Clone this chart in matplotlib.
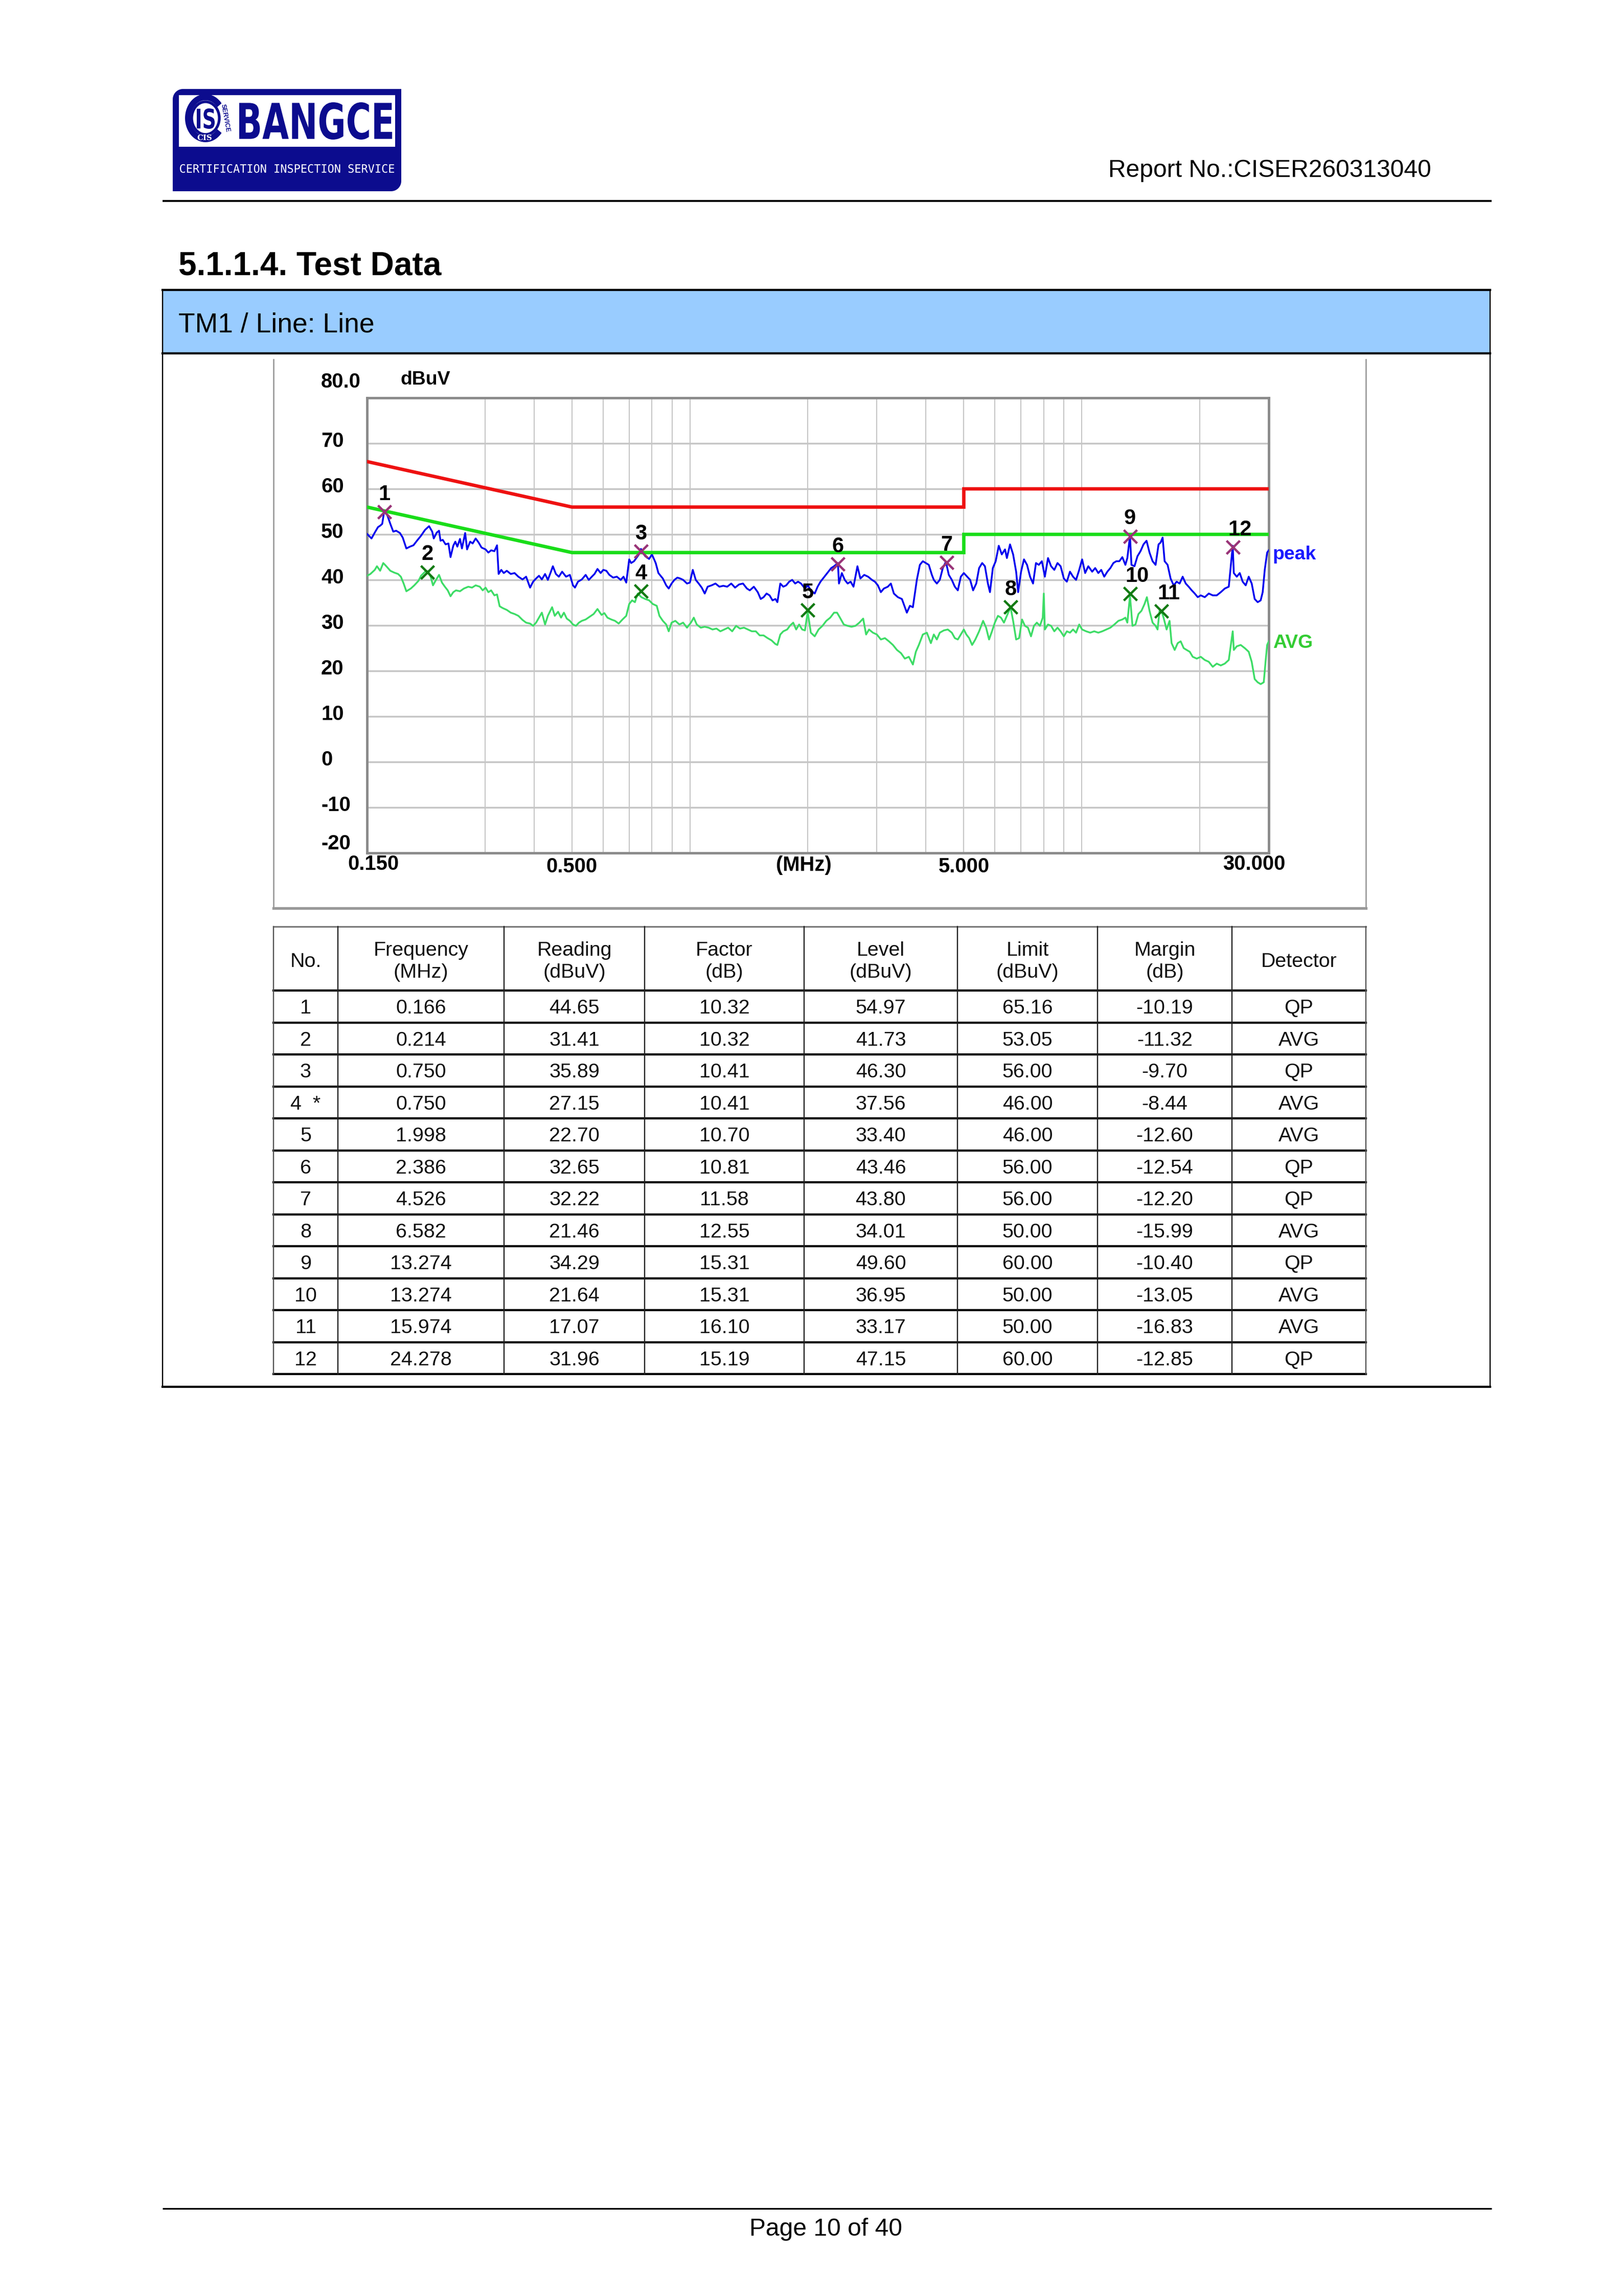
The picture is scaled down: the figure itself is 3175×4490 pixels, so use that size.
import numpy as np
import matplotlib
matplotlib.use("Agg")
import matplotlib.pyplot as plt
from matplotlib.patches import Rectangle, PathPatch, Polygon, Ellipse
from matplotlib.textpath import TextPath
from matplotlib.font_manager import FontProperties
from matplotlib.transforms import Affine2D
from matplotlib.ticker import NullLocator

plt.rcParams['font.family'] = ['Liberation Sans', 'DejaVu Sans']

# ---------------- data ----------------
peak_freq_lo = [0.150, 0.154, 0.157, 0.160, 0.162, 0.164, 0.166, 0.169, 0.172, 0.175, 0.178, 0.182, 0.185, 0.189,
                0.193, 0.197, 0.202, 0.206, 0.211, 0.216, 0.220, 0.222, 0.226, 0.229, 0.231, 0.234, 0.238, 0.242,
                0.245, 0.249, 0.252, 0.255, 0.259, 0.262, 0.267, 0.270, 0.275, 0.279, 0.284, 0.289, 0.294, 0.301,
                0.306, 0.311, 0.317, 0.322, 0.325, 0.330, 0.335, 0.341, 0.349, 0.357, 0.365, 0.374, 0.382, 0.391,
                0.398, 0.405, 0.412, 0.419, 0.427, 0.434, 0.442, 0.447, 0.455, 0.463, 0.472, 0.483, 0.494, 0.503,
                0.509, 0.518, 0.530, 0.542, 0.552, 0.562, 0.571, 0.581, 0.592, 0.601, 0.612, 0.623, 0.637, 0.651,
                0.666, 0.677, 0.688, 0.700, 0.708, 0.720, 0.740, 0.750, 0.760, 0.769, 0.787, 0.800, 0.818, 0.831]
peak_level_lo = [50.1, 49.1, 50.4, 51.6, 51.9, 52.3, 55.2, 54.2, 52.3, 50.6, 50.8, 50.3, 49.3, 46.9,
                 47.3, 47.6, 48.8, 49.7, 51.0, 51.8, 50.6, 49.1, 50.4, 50.8, 48.6, 48.8, 47.8, 48.0,
                 45.0, 47.5, 48.4, 47.3, 49.0, 46.9, 50.3, 46.7, 48.4, 48.0, 49.1, 48.2, 47.1, 46.7,
                 46.0, 46.5, 46.3, 47.6, 41.3, 42.2, 41.5, 42.0, 41.3, 41.5, 40.7, 40.1, 40.7, 38.3,
                 39.6, 40.3, 40.9, 40.1, 41.3, 40.0, 41.8, 43.0, 41.3, 40.7, 41.8, 40.7, 41.1, 38.8,
                 38.3, 39.6, 40.1, 41.1, 40.0, 40.7, 41.3, 42.4, 41.5, 42.2, 42.0, 41.1, 40.5, 40.7,
                 40.0, 40.7, 39.4, 44.5, 43.7, 44.1, 45.5, 46.8, 46.0, 45.2, 44.6, 45.6, 43.7, 41.5]

peak_freq_mid = [0.853, 0.870, 0.883, 0.898, 0.913, 0.929, 0.945, 0.961, 0.983, 1.000, 1.017, 1.035, 1.053, 1.072,
                 1.091, 1.110, 1.136, 1.162, 1.189, 1.217, 1.245, 1.275, 1.304, 1.335, 1.366, 1.398, 1.422, 1.456,
                 1.490, 1.516, 1.542, 1.569, 1.597, 1.625, 1.653, 1.672, 1.701, 1.731, 1.761, 1.792, 1.824, 1.856,
                 1.888, 1.921, 1.966, 2.000, 2.035, 2.082, 2.118, 2.154, 2.204, 2.255, 2.294, 2.333, 2.386, 2.401,
                 2.442, 2.484, 2.527, 2.571, 2.615, 2.676, 2.723, 2.785, 2.849, 2.915, 2.965, 3.018, 3.071, 3.126,
                 3.200, 3.257, 3.315, 3.394, 3.475, 3.536, 3.578, 3.642, 3.707, 3.750, 3.794, 3.862, 3.930, 4.000,
                 4.071, 4.144, 4.192, 4.267, 4.342, 4.420, 4.500, 4.578, 4.660, 4.743, 4.827, 4.913, 5.000]
peak_level_mid = [40.3, 38.8, 38.1, 39.2, 40.0, 40.5, 40.3, 40.0, 39.2, 39.4, 42.2, 40.0, 39.2, 38.3,
                  37.0, 38.5, 38.8, 39.2, 38.5, 38.7, 38.5, 39.2, 38.3, 39.0, 39.2, 38.1, 37.7, 38.5,
                  37.3, 35.8, 36.2, 37.0, 36.6, 35.5, 35.8, 35.1, 39.2, 38.5, 38.8, 39.6, 40.0, 39.2,
                  39.6, 39.2, 38.1, 38.8, 37.7, 37.0, 38.5, 39.6, 40.7, 41.8, 42.6, 43.0, 43.7, 39.2,
                  41.5, 40.0, 39.2, 39.6, 38.5, 43.0, 40.3, 41.1, 40.7, 40.0, 39.6, 38.8, 37.3, 38.1,
                  38.5, 39.2, 37.0, 36.2, 35.8, 34.0, 32.8, 34.3, 34.0, 37.0, 40.0, 43.3, 44.1, 43.7,
                  43.3, 41.1, 40.0, 39.2, 40.0, 42.6, 44.0, 41.1, 40.0, 38.5, 37.7, 40.7, 41.5]

peak_freq_hi = [5.10, 5.19, 5.28, 5.38, 5.47, 5.57, 5.66, 5.76, 5.83, 5.93, 6.03, 6.14, 6.25, 6.37, 6.44,
                6.56, 6.68, 6.80, 6.88, 7.00, 7.12, 7.25, 7.38, 7.51, 7.64, 7.77, 7.91, 8.05, 8.20, 8.35,
                8.51, 8.67, 8.83, 9.00, 9.16, 9.33, 9.50, 9.67, 9.85, 10.02, 10.20, 10.39, 10.63, 10.82, 11.02,
                11.21, 11.41, 11.62, 11.83, 12.04, 12.25, 12.47, 12.69, 12.92, 13.07, 13.274, 13.39, 13.63, 13.87,
                14.12, 14.37, 14.63, 14.89, 15.16, 15.43, 15.70, 15.89, 16.08, 16.27, 16.56, 16.85, 17.16, 17.46,
                17.77, 18.09, 18.42, 18.74, 19.08, 19.42, 19.77, 20.12, 20.60, 21.09, 21.59, 22.10, 22.63, 23.17,
                23.72, 24.278, 24.43, 24.86, 25.30, 25.74, 26.20, 26.67, 27.14, 27.62, 28.11, 28.61, 28.95, 29.30,
                29.72, 30.0]
peak_level_hi = [40.7, 40.0, 37.7, 39.2, 42.6, 43.7, 43.0, 39.2, 37.3, 42.6, 44.1, 47.5, 45.6, 46.7, 44.8,
                 47.8, 45.6, 41.8, 37.3, 41.8, 44.5, 43.3, 40.7, 39.2, 43.7, 43.3, 44.1, 40.7, 44.8, 43.0,
                 42.2, 43.7, 43.0, 40.3, 39.6, 41.8, 40.7, 40.0, 42.2, 44.5, 41.5, 43.0, 41.8, 42.6, 41.5,
                 42.2, 40.7, 41.8, 42.6, 43.7, 44.1, 44.1, 45.0, 43.3, 44.8, 49.6, 43.3, 43.0, 45.2,
                 46.3, 47.8, 48.6, 46.0, 44.1, 43.3, 47.8, 48.2, 49.3, 44.1, 43.3, 40.3, 38.8, 39.6,
                 39.2, 40.7, 39.2, 38.5, 37.7, 37.0, 36.2, 36.6, 36.2, 37.0, 36.6, 36.6, 37.3, 38.1,
                 38.5, 47.5, 41.5, 40.7, 41.5, 39.6, 38.8, 40.7, 39.2, 35.8, 35.1, 35.5, 37.3, 42.2,
                 46.0, 46.5]

avg_freq_lo = [0.150, 0.153, 0.157, 0.159, 0.162, 0.165, 0.168, 0.172, 0.176, 0.180, 0.183, 0.186, 0.189, 0.194,
               0.198, 0.203, 0.206, 0.211, 0.214, 0.215, 0.218, 0.221, 0.225, 0.229, 0.233, 0.237, 0.241, 0.245,
               0.249, 0.253, 0.259, 0.265, 0.272, 0.278, 0.284, 0.291, 0.296, 0.301, 0.306, 0.311, 0.317, 0.322,
               0.327, 0.333, 0.341, 0.349, 0.357, 0.365, 0.374, 0.382, 0.391, 0.398, 0.405, 0.412, 0.419, 0.427,
               0.434, 0.445, 0.452, 0.461, 0.469, 0.477, 0.485, 0.494, 0.503, 0.512, 0.521, 0.530, 0.542, 0.555,
               0.568, 0.581, 0.595, 0.605, 0.616, 0.630, 0.644, 0.658, 0.673, 0.688, 0.700, 0.712, 0.724, 0.736,
               0.752, 0.769, 0.787, 0.804, 0.823, 0.836]
avg_level_lo = [40.9, 41.3, 42.2, 43.0, 42.0, 43.7, 43.0, 42.0, 41.6, 41.3, 40.7, 39.2, 37.5, 38.1,
                38.8, 39.8, 40.9, 41.8, 41.9, 41.8, 40.7, 38.8, 40.0, 41.1, 39.4, 38.5, 37.7, 36.4,
                37.3, 37.7, 37.5, 38.1, 38.5, 38.3, 38.8, 38.5, 37.7, 38.3, 37.3, 37.7, 36.6, 36.8,
                34.2, 33.8, 33.4, 32.8, 32.5, 32.1, 31.2, 30.6, 30.4, 29.9, 30.6, 31.7, 32.8, 30.2,
                32.1, 34.0, 32.1, 33.0, 31.7, 32.8, 31.5, 31.0, 30.2, 29.9, 30.6, 31.0, 31.3, 31.9,
                32.5, 33.6, 32.3, 32.7, 31.7, 31.3, 31.0, 30.4, 31.3, 32.1, 34.7, 35.5, 35.1, 37.0,
                36.2, 35.8, 35.5, 34.7, 34.3, 32.1]

avg_freq_mid = [0.853, 0.870, 0.883, 0.898, 0.918, 0.940, 0.961, 0.983, 1.006, 1.023, 1.041, 1.066, 1.091, 1.116,
                1.142, 1.169, 1.196, 1.224, 1.252, 1.282, 1.312, 1.342, 1.374, 1.406, 1.439, 1.473, 1.507, 1.542,
                1.579, 1.616, 1.653, 1.672, 1.701, 1.731, 1.771, 1.803, 1.835, 1.867, 1.900, 1.934, 1.966, 1.998,
                2.035, 2.082, 2.130, 2.179, 2.229, 2.281, 2.333, 2.374, 2.415, 2.470, 2.527, 2.585, 2.645, 2.706,
                2.768, 2.816, 2.865, 2.931, 3.000, 3.071, 3.145, 3.220, 3.297, 3.376, 3.457, 3.536, 3.620, 3.707,
                3.772, 3.839, 3.930, 4.024, 4.120, 4.192, 4.267, 4.342, 4.446, 4.551, 4.660, 4.743, 4.827, 4.913,
                5.000]
avg_level_mid = [31.0, 30.2, 28.7, 30.6, 31.0, 30.2, 30.6, 29.5, 30.6, 31.7, 30.2, 29.5, 29.7, 29.5,
                 29.1, 29.3, 28.7, 29.1, 29.5, 28.7, 29.9, 29.3, 29.5, 29.1, 28.7, 28.7, 27.8, 27.8,
                 27.2, 26.7, 25.9, 25.7, 28.0, 28.7, 29.1, 30.0, 30.6, 29.1, 30.2, 29.1, 28.9, 33.0,
                 28.4, 27.6, 29.1, 29.9, 31.0, 31.7, 32.8, 32.8, 31.7, 30.2, 29.9, 29.7, 29.9, 30.6,
                 31.5, 28.0, 29.1, 28.4, 28.0, 26.9, 27.2, 26.5, 25.7, 24.6, 23.9, 22.7, 23.1, 21.4,
                 24.2, 25.7, 28.0, 28.4, 26.1, 28.0, 26.9, 28.4, 28.9, 29.1, 28.4, 27.2, 26.9, 28.0,
                 29.1]

avg_freq_hi = [5.075, 5.16, 5.25, 5.35, 5.47, 5.60, 5.70, 5.80, 5.90, 6.00, 6.11, 6.22, 6.33, 6.44, 6.58,
               6.68, 6.80, 6.92, 7.04, 7.16, 7.29, 7.42, 7.55, 7.68, 7.82, 7.95, 8.00, 8.05, 8.20, 8.35,
               8.51, 8.67, 8.83, 9.00, 9.16, 9.33, 9.50, 9.67, 9.85, 10.02, 10.26, 10.51, 10.76, 11.02, 11.28,
               11.55, 11.83, 12.11, 12.40, 12.69, 12.92, 13.07, 13.274, 13.47, 13.71, 13.95, 14.20, 14.46, 14.66,
               14.89, 15.16, 15.43, 15.61, 15.79, 15.974, 16.17, 16.46, 16.75, 16.95, 17.26, 17.57, 17.88, 18.20,
               18.52, 18.86, 19.19, 19.65, 20.12, 20.60, 21.09, 21.59, 22.10, 22.63, 23.17, 23.72, 24.278, 24.43,
               24.86, 25.44, 26.06, 26.67, 27.14, 27.62, 28.11, 28.61, 29.13, 29.47, 29.72, 30.0]
avg_level_hi = [28.0, 27.2, 25.7, 26.9, 28.7, 31.0, 29.5, 26.9, 28.7, 30.6, 32.1, 31.7, 30.6, 32.1, 34.0,
                31.0, 26.9, 27.2, 31.3, 29.9, 29.5, 27.6, 29.9, 30.6, 29.9, 31.7, 37.0, 29.1, 30.2, 29.9,
                28.7, 29.5, 28.7, 27.6, 28.7, 28.4, 29.1, 28.4, 30.2, 29.1, 28.7, 28.4, 28.7, 28.4, 28.7,
                29.1, 29.5, 30.2, 31.0, 31.3, 31.7, 30.6, 36.5, 29.9, 30.2, 32.5, 33.2, 34.7, 36.2,
                33.2, 30.6, 29.9, 29.1, 33.2, 33.2, 31.7, 29.1, 31.0, 26.1, 24.6, 26.1, 26.5, 25.0,
                24.6, 24.2, 23.1, 22.7, 23.1, 22.4, 22.0, 20.9, 21.6, 21.2, 21.6, 22.4, 28.7, 24.6,
                25.4, 25.7, 25.0, 24.2, 22.0, 18.2, 17.5, 17.1, 17.5, 22.4, 25.7, 26.5]

qp_limit_freq = [0.15, 0.5, 0.5, 5.0, 5.0, 30.0]
qp_limit_level = [66.0, 56.0, 56.0, 56.0, 60.0, 60.0]
avg_limit_freq = [0.15, 0.5, 0.5, 5.0, 5.0, 30.0]
avg_limit_level = [56.0, 46.0, 46.0, 46.0, 50.0, 50.0]

grid_freq = [0.3, 0.4, 0.5, 0.6, 0.7, 0.8, 0.9, 1.0, 2, 3, 4, 5, 6, 7, 8, 9, 10, 20]
grid_level = [-10, 0, 10, 20, 30, 40, 50, 60, 70]
ytick_values = [80, 70, 60, 50, 40, 30, 20, 10, 0, -10, -20]
ytick_labels = ['80.0', '70', '60', '50', '40', '30', '20', '10', '0', '-10', '-20']
xtick_values = [0.15, 0.5, 5.0, 30.0]
xtick_labels = ['0.150', '0.500', '5.000', '30.000']

no_labels = ['1', '2', '3', '4  *', '5', '6', '7', '8', '9', '10', '11', '12']
freq = [0.166, 0.214, 0.750, 0.750, 1.998, 2.386, 4.526, 6.582, 13.274, 13.274, 15.974, 24.278]
reading = [44.65, 31.41, 35.89, 27.15, 22.70, 32.65, 32.22, 21.46, 34.29, 21.64, 17.07, 31.96]
factor = [10.32, 10.32, 10.41, 10.41, 10.70, 10.81, 11.58, 12.55, 15.31, 15.31, 16.10, 15.19]
level = [54.97, 41.73, 46.30, 37.56, 33.40, 43.46, 43.80, 34.01, 49.60, 36.95, 33.17, 47.15]
limit = [65.16, 53.05, 56.00, 46.00, 46.00, 56.00, 56.00, 50.00, 60.00, 50.00, 50.00, 60.00]
margin = [-10.19, -11.32, -9.70, -8.44, -12.60, -12.54, -12.20, -15.99, -10.40, -13.05, -16.83, -12.85]
detector = ['QP', 'AVG', 'QP', 'AVG', 'AVG', 'QP', 'QP', 'AVG', 'QP', 'AVG', 'AVG', 'QP']

header_top = ['No.', 'Frequency', 'Reading', 'Factor', 'Level', 'Limit', 'Margin', 'Detector']
header_unit = ['', '(MHz)', '(dBuV)', '(dB)', '(dBuV)', '(dBuV)', '(dB)', '']

# ---------------- figure ----------------
W, H, DPI = 3175, 4490, 384
fig = plt.figure(figsize=(W / DPI, H / DPI), dpi=DPI)
fig.patch.set_facecolor('white')
pg = fig.add_axes([0, 0, 1, 1], zorder=0)
pg.set_xlim(0, W)
pg.set_ylim(H, 0)
pg.set_autoscale_on(False)
pg.axis('off')


def fit_text(s, x0, x1, y0, y1, color, family, weight='bold'):
    tp = TextPath((0, 0), s, size=100, prop=FontProperties(family=family, weight=weight))
    bb = tp.get_extents()
    sx = (x1 - x0) / bb.width
    sy = (y1 - y0) / bb.height
    tr = Affine2D().translate(-bb.x0, -bb.y0).scale(sx, -sy).translate(x0, y1)
    pg.add_patch(PathPatch(tr.transform_path(tp), fc=color, ec='none', lw=0))


# logo
LOGO = '#0c0c8e'
lx0, lx1, ly0, ly1, rr = 338, 785, 174, 374, 20
t1 = np.linspace(np.pi, np.pi / 2, 20)
t2 = np.linspace(0, -np.pi / 2, 20)
pts = [(lx0 + rr + rr * np.cos(t), ly0 + rr - rr * np.sin(t)) for t in t1]
pts += [(lx1, ly0)]
pts += [(lx1 - rr + rr * np.cos(t), ly1 - rr - rr * np.sin(t)) for t in t2]
pts += [(lx0, ly1)]
pg.add_patch(Polygon(pts, closed=True, fc=LOGO, ec='none'))
pg.add_patch(Rectangle((350, 186), 423, 101, fc='white', ec='none'))
ecx, ecy, ea, eb = 402, 231, 40, 47
th = np.radians(np.linspace(38, 322, 90))
outer = [(ecx + ea * np.cos(t), ecy - eb * np.sin(t)) for t in th]
inner = [(ecx + (ea - 11) * np.cos(t), ecy - (eb - 12) * np.sin(t)) for t in th[::-1]]
pg.add_patch(Polygon(outer + inner, closed=True, fc=LOGO, ec='none'))
pg.add_patch(Ellipse((ecx, ecy), 54, 64, fc='white', ec=LOGO, lw=1.0))
fit_text('IS', 385, 420, 212, 252, LOGO, ['DejaVu Sans'], 'bold')
pg.text(ecx - 2, ecy + 39, 'CIS', fontsize=2.8, color='white', fontweight='bold',
        ha='center', va='center', family=['DejaVu Serif'])
pg.text(ecx + 38, ecy, 'SERVICE', fontsize=2.4, color=LOGO, fontweight='bold',
        ha='center', va='center', rotation=-80)
fit_text('BANGCE', 468, 767, 200, 273, LOGO, ['Liberation Sans Narrow', 'DejaVu Sans'], 'bold')
fit_text('CERTIFICATION INSPECTION SERVICE', 352, 771, 321, 338, 'white', ['DejaVu Sans Mono'], 'normal')

# header / title
pg.text(2800, 346, 'Report No.:CISER260313040', ha='right', va='baseline', fontsize=9)
pg.plot([318, 2918], [393, 393], color='black', lw=0.7, solid_capstyle='butt')
pg.text(349, 538, '5.1.1.4. Test Data', fontsize=12, fontweight='bold', va='baseline')

# outer box with blue band
pg.add_patch(Rectangle((318, 567), 2597, 124, fc='#99ccff', ec='none'))
pg.plot([318, 2915], [567, 567], color='black', lw=0.8)
pg.plot([318, 2915], [691, 691], color='black', lw=0.8)
pg.plot([318, 318], [567, 2712], color='black', lw=0.45)
pg.plot([2915, 2915], [567, 2712], color='black', lw=0.45)
pg.plot([318, 2915], [2712, 2712], color='black', lw=0.8)
pg.text(349, 649, 'TM1 / Line: Line', fontsize=10, va='baseline')

# chart frame
pg.plot([535, 535], [703, 1776], color='#9a9a9a', lw=0.5)
pg.plot([2672, 2672], [703, 1776], color='#9a9a9a', lw=0.5)
pg.plot([535, 2672], [1776, 1776], color='#9a9a9a', lw=1.0)

# ---------------- chart ----------------
PX0, PX1, PY0, PY1 = 718, 2482, 778, 1668
ax = fig.add_axes([PX0 / W, 1 - PY1 / H, (PX1 - PX0) / W, (PY1 - PY0) / H], zorder=2)
ax.set_xscale('log')
ax.set_autoscale_on(False)
ax.set_xlim(0.15, 30)
ax.set_ylim(-20, 80)
ax.xaxis.set_major_locator(NullLocator())
ax.xaxis.set_minor_locator(NullLocator())
ax.yaxis.set_major_locator(NullLocator())
ax.yaxis.set_minor_locator(NullLocator())
ax.set_facecolor('white')
for s in ax.spines.values():
    s.set_color('#8a8a8a')
    s.set_linewidth(0.9)

ax.vlines(grid_freq, -20, 80, color='#c6c6c6', lw=0.4, zorder=1)
ax.hlines(grid_level, 0.15, 30, color='#c6c6c6', lw=0.65, zorder=1)

avg_f = avg_freq_lo + avg_freq_mid + avg_freq_hi
avg_l = avg_level_lo + avg_level_mid + avg_level_hi
pk_f = peak_freq_lo + peak_freq_mid + peak_freq_hi
pk_l = peak_level_lo + peak_level_mid + peak_level_hi
na = min(len(avg_f), len(avg_l))
npk = min(len(pk_f), len(pk_l))
ax.plot(avg_f[:na], avg_l[:na], color='#3ddc66', lw=0.65, zorder=3)
ax.plot(pk_f[:npk], pk_l[:npk], color='#0000ee', lw=0.65, zorder=3)
ax.plot(qp_limit_freq, qp_limit_level, color='#ee1111', lw=1.25, zorder=4, solid_joinstyle='miter')
ax.plot(avg_limit_freq, avg_limit_level, color='#19dd19', lw=1.25, zorder=4, solid_joinstyle='miter')

for i, (f, lv, det) in enumerate(zip(freq, level, detector)):
    col = '#993377' if det == 'QP' else '#127a12'
    ax.plot([f], [lv], marker='x', ms=5.0, mew=0.85, color=col, zorder=5, linestyle='none')
    n = i + 1
    dx = 2.6 if n >= 10 else 0.0
    ax.annotate(str(n), (f, lv), xytext=(dx, 6.4), textcoords='offset points', ha='center', va='center',
                fontsize=7.8, fontweight='bold', color='black', zorder=6, annotation_clip=False)

ytr = ax.get_yaxis_transform()
for v, lab in zip(ytick_values, ytick_labels):
    off = 3.5 if v == 80 else (2.0 if v == -20 else 0.5)
    ax.text(-0.051, v + off, lab, transform=ytr, ha='left', va='center', fontsize=7.5,
            fontweight='bold', clip_on=False)
for k, (v, lab) in enumerate(zip(xtick_values, xtick_labels)):
    dx = 2.4 if k == 0 else (-5.4 if k == len(xtick_values) - 1 else 0.0)
    dy = -4.1 if k in (0, len(xtick_values) - 1) else -5.1
    ax.annotate(lab, (v, -20), xytext=(dx, dy), textcoords='offset points', ha='center', va='center',
                fontsize=7.5, fontweight='bold', annotation_clip=False)
ax.text(0.4841, -0.027, '(MHz)', transform=ax.transAxes, ha='center', va='center', fontsize=7.5,
        fontweight='bold', clip_on=False)
ax.text(0.0374, 1.040, 'dBuV', transform=ax.transAxes, ha='left', va='center', fontsize=7,
        fontweight='bold', clip_on=False)
ax.text(1.0045, 45.6, 'peak', transform=ytr, ha='left', va='center', fontsize=7,
        fontweight='bold', color='#1a1aff', clip_on=False)
ax.text(1.0045, 26.1, 'AVG', transform=ytr, ha='left', va='center', fontsize=7,
        fontweight='bold', color='#33cc33', clip_on=False)

# ---------------- table ----------------
col_edges = [535, 661, 986, 1261, 1573, 1873, 2147, 2410, 2672]
t_top, t_head, row_h = 1812, 1937, 62.5
t_bot = t_head + row_h * len(freq)
centers = [(a + b) / 2 for a, b in zip(col_edges[:-1], col_edges[1:])]
pg.plot([col_edges[0], col_edges[-1]], [t_top, t_top], color='#7a7a7a', lw=0.6)
for k in range(len(freq) + 1):
    yy = t_head + k * row_h
    pg.plot([col_edges[0], col_edges[-1]], [yy, yy], color='black', lw=0.8)
for i, x in enumerate(col_edges):
    edge = i in (0, len(col_edges) - 1)
    pg.plot([x, x], [t_top, t_bot], color='#555555' if edge else '#222222', lw=0.45)

TFS = 7.4
for c, top, unit in zip(centers, header_top, header_unit):
    if unit:
        pg.text(c, 1869, top, ha='center', va='baseline', fontsize=TFS, color='#111111')
        pg.text(c, 1912, unit, ha='center', va='baseline', fontsize=TFS, color='#111111')
    else:
        pg.text(c, 1891, top, ha='center', va='baseline', fontsize=TFS, color='#111111')

for r in range(len(freq)):
    yb = t_head + (r + 0.5) * row_h + 14
    cells = [no_labels[r], '%.3f' % freq[r], '%.2f' % reading[r], '%.2f' % factor[r],
             '%.2f' % level[r], '%.2f' % limit[r], '%.2f' % margin[r], detector[r]]
    for c, txt in zip(centers, cells):
        pg.text(c, yb, txt, ha='center', va='baseline', fontsize=TFS, color='#111111')

# footer
pg.plot([318, 2918], [4319, 4319], color='black', lw=0.6, solid_capstyle='butt')
pg.text(1616, 4372, 'Page 10 of 40', ha='center', va='baseline', fontsize=9)

fig.savefig('out.png', dpi=DPI, facecolor='white')
